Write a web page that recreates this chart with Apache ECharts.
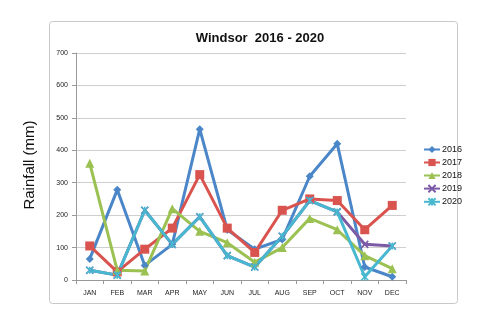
<!DOCTYPE html>
<html>
<head>
<meta charset="utf-8">
<script src="https://cdn.jsdelivr.net/npm/echarts@6/dist/echarts.min.js"></script>
<style>
  html, body { margin: 0; padding: 0; background: #fff; }
  #chart { width: 482px; height: 324px; }
</style>
</head>
<body>
<div id="chart"></div>
<script>
// Monthly rainfall at Windsor, mm
const months = ['JAN', 'FEB', 'MAR', 'APR', 'MAY', 'JUN', 'JUL', 'AUG', 'SEP', 'OCT', 'NOV', 'DEC'];
const rain2016 = [65, 278, 45, 110, 465, 155, 95, 125, 320, 420, 40, 10];
const rain2017 = [105, 25, 95, 160, 325, 160, 85, 215, 250, 245, 155, 230];
const rain2018 = [360, 30, 28, 220, 150, 115, 55, 100, 190, 155, 75, 35];
const rain2019 = [30, 15, 215, 110, 195, 75, 40, 135, 245, 210, 110, 105];
const rain2020 = [30, 15, 215, 110, 195, 75, 40, 135, 245, 210, 10, 105];
const yTicks = [0, 100, 200, 300, 400, 500, 600, 700];

const font = 'Liberation Sans, Arial, sans-serif';

// cross-shaped markers are stroke-only, so they need a border to show up
function line(name, data, color, symbol, size, stroked) {
  return {
    name: name,
    type: 'line',
    data: data,
    symbol: symbol,
    symbolSize: size,
    lineStyle: { width: 3, color: color },
    itemStyle: { color: color, borderColor: color, borderWidth: stroked ? 1.6 : 0 },
    emphasis: { disabled: true },
    animation: false
  };
}

const chart = echarts.init(document.getElementById('chart'));
chart.setOption({
  backgroundColor: '#ffffff',
  animation: false,
  title: {
    text: 'Windsor  2016 - 2020',
    left: 255,
    textAlign: 'center',
    top: 27,
    textStyle: { fontFamily: font, fontSize: 13, fontWeight: 'bold', color: '#111' }
  },
  graphic: [{
    type: 'rect',
    shape: { x: 49.5, y: 21.5, width: 408, height: 282, r: 3 },
    style: { fill: 'none', stroke: '#c8c8c8', lineWidth: 1 },
    z: -1
  }, {
    type: 'text',
    rotation: Math.PI / 2,
    x: 30, y: 165,
    style: {
      text: 'Rainfall (mm)',
      fontFamily: font,
      fontSize: 15,
      fill: '#111',
      textAlign: 'center',
      textVerticalAlign: 'middle'
    }
  }],
  legend: {
    orient: 'vertical',
    left: 418,
    top: 140,
    itemGap: 4,
    itemWidth: 16,
    itemHeight: 9,
    textStyle: { fontFamily: font, fontSize: 9, color: '#111', padding: [0, 0, 0, -3] },
    data: ['2016', '2017', '2018', '2019', '2020']
  },
  grid: { left: 76, right: 76, top: 53, bottom: 44 },
  xAxis: {
    type: 'category',
    data: months,
    boundaryGap: true,
    axisLine: { lineStyle: { color: '#999' } },
    axisTick: { show: true, alignWithLabel: false, length: 4, lineStyle: { color: '#999' } },
    axisLabel: { fontFamily: font, fontSize: 7, color: '#222', margin: 10 }
  },
  yAxis: {
    type: 'value',
    min: yTicks[0],
    max: yTicks[yTicks.length - 1],
    interval: 100,
    axisLine: { show: true, lineStyle: { color: '#999' } },
    axisTick: { show: true, length: 4, lineStyle: { color: '#999' } },
    axisLabel: { fontFamily: font, fontSize: 7, color: '#222', margin: 8 },
    splitLine: { lineStyle: { color: '#cfcfcf' } }
  },
  series: [
    line('2016', rain2016, '#4a86c8', 'diamond', 8, false),
    line('2017', rain2017, '#d9534f', 'rect', 9, false),
    line('2018', rain2018, '#9bc152', 'triangle', 9, false),
    line('2019', rain2019, '#7d5aa6', 'path://M0,0L10,10M10,0L0,10', 7, true),
    line('2020', rain2020, '#48b8d0', 'path://M0,0L10,10M10,0L0,10M5,0L5,10', 7, true)
  ]
});
</script>
</body>
</html>
